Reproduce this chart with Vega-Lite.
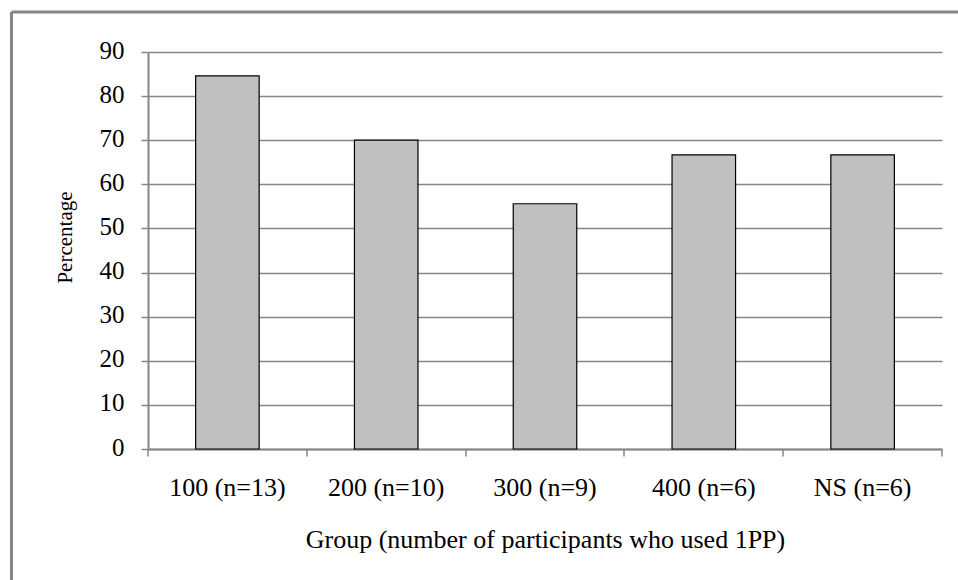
{
  "$schema": "https://vega.github.io/schema/vega-lite/v6.json",
  "autosize": {"type": "none"},
  "padding": {"left": 11.5, "top": 12, "right": 0, "bottom": 0},
  "width": 946.5,
  "height": 568,
  "background": "white",
  "config": {
    "view": {"stroke": "#868686", "strokeWidth": 3, "strokeDash": [946.5, 1514.5, 568, 0]},
    "axis": {
      "domainColor": "#868686",
      "domainWidth": 2,
      "tickColor": "#868686",
      "tickWidth": 1.5,
      "tickSize": 7,
      "gridColor": "#868686",
      "gridWidth": 1.3,
      "gridOpacity": 1,
      "labelColor": "#000000",
      "titleColor": "#000000",
      "labelFont": "Liberation Serif",
      "titleFont": "Liberation Serif",
      "titleFontWeight": "normal"
    }
  },
  "data": {
    "values": [
      {"group": "100 (n=13)", "percentage": 84.6},
      {"group": "200 (n=10)", "percentage": 70.0},
      {"group": "300 (n=9)", "percentage": 55.6},
      {"group": "400 (n=6)", "percentage": 66.7},
      {"group": "NS (n=6)", "percentage": 66.7}
    ]
  },
  "mark": {
    "type": "bar",
    "fill": "#c0c0c0",
    "stroke": "#000000",
    "strokeWidth": 1.2,
    "width": {"band": 0.4}
  },
  "encoding": {
    "x": {
      "field": "group",
      "type": "nominal",
      "sort": null,
      "scale": {"range": [136.5, 930.5], "paddingInner": 0, "paddingOuter": 0},
      "axis": {
        "orient": "bottom",
        "offset": -131,
        "title": "Group (number of participants who used 1PP)",
        "titleFontSize": 26,
        "titleBaseline": "alphabetic",
        "titleY": 98,
        "labelAngle": 0,
        "labelFontSize": 26,
        "labelBaseline": "alphabetic",
        "labelPadding": 39,
        "labelOverlap": false,
        "labelLimit": 0,
        "bandPosition": 1,
        "tickExtra": true,
        "grid": false
      }
    },
    "y": {
      "field": "percentage",
      "type": "quantitative",
      "scale": {"domain": [0, 90], "range": [437, 40], "nice": false, "zero": true},
      "axis": {
        "orient": "left",
        "offset": -136.5,
        "title": "Percentage",
        "titleFontSize": 21,
        "titleBaseline": "alphabetic",
        "titleAngle": -90,
        "titleX": -77,
        "titleY": 225,
        "values": [0, 10, 20, 30, 40, 50, 60, 70, 80, 90],
        "labelFontSize": 25,
        "labelBaseline": "middle",
        "labelOffset": -2,
        "labelPadding": 17,
        "grid": true
      }
    }
  }
}
